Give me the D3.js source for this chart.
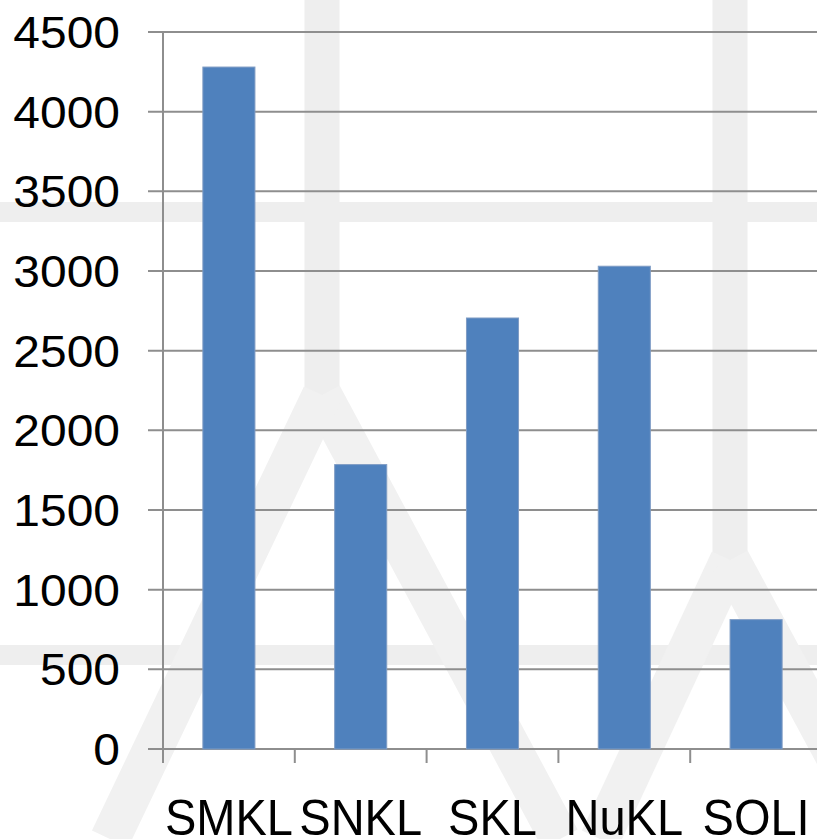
<!DOCTYPE html>
<html>
<head>
<meta charset="utf-8">
<script src="https://cdn.jsdelivr.net/npm/d3@7"></script>
<style>
  html, body { margin: 0; padding: 0; background: #ffffff; }
  svg { display: block; }
  text { font-family: "Liberation Sans", Arial, sans-serif; fill: #000; }
</style>
</head>
<body>
<svg id="chart" width="817" height="839"></svg>
<script>
// ---- data ----
const categories = ["SMKL", "SNKL", "SKL", "NuKL", "SOLI"];
const values = [4280, 1785, 2705, 3030, 812];
const yTicks = [0, 500, 1000, 1500, 2000, 2500, 3000, 3500, 4000, 4500];

const W = 817, H = 839;
const svg = d3.select("#chart");

// ---- faint watermark background ----
const wm = svg.append("g").attr("fill", "none").attr("stroke", "#eeeeee").attr("stroke-linecap", "butt");
wm.append("line").attr("x1", 0).attr("x2", W).attr("y1", 212).attr("y2", 212).attr("stroke-width", 20);
wm.append("line").attr("x1", 0).attr("x2", W).attr("y1", 655).attr("y2", 655).attr("stroke-width", 20);
wm.append("line").attr("x1", 322).attr("x2", 322).attr("y1", 0).attr("y2", 400).attr("stroke-width", 35);
wm.append("line").attr("x1", 730).attr("x2", 730).attr("y1", 0).attr("y2", 565).attr("stroke-width", 35);
const wd = wm.append("g").attr("stroke", "#f1f1f1");
wd.append("line").attr("x1", 322).attr("y1", 395).attr("x2", 560).attr("y2", 839).attr("stroke-width", 40);
wd.append("line").attr("x1", 322).attr("y1", 395).attr("x2", 110).attr("y2", 839).attr("stroke-width", 40);
wd.append("line").attr("x1", 730).attr("y1", 560).attr("x2", 600).attr("y2", 839).attr("stroke-width", 40);
wd.append("line").attr("x1", 730).attr("y1", 560).attr("x2", 880).attr("y2", 839).attr("stroke-width", 40);

// ---- scales ----
const x0 = 163, step = 131.8;
const x = d3.scaleBand()
  .domain(categories)
  .range([x0, x0 + step * categories.length])
  .paddingInner(0.605)
  .paddingOuter(0.3025);

const y = d3.scaleLinear().domain([0, 4500]).range([749, 32]);

const gridColor = "#8e8e8e";

// gridlines (extend left as tick marks)
svg.append("g")
  .selectAll("line")
  .data(yTicks)
  .join("line")
  .attr("x1", 148).attr("x2", W)
  .attr("y1", d => y(d)).attr("y2", d => y(d))
  .attr("stroke", gridColor).attr("stroke-width", 2);

// y axis line
svg.append("line")
  .attr("x1", x0).attr("x2", x0)
  .attr("y1", y(4500)).attr("y2", y(0) + 14)
  .attr("stroke", gridColor).attr("stroke-width", 2);

// category boundary ticks
const bounds = d3.range(categories.length + 1).map(i => x0 + i * x.step());
svg.append("g")
  .selectAll("line")
  .data(bounds)
  .join("line")
  .attr("x1", d => d).attr("x2", d => d)
  .attr("y1", y(0)).attr("y2", y(0) + 14)
  .attr("stroke", gridColor).attr("stroke-width", 2);

// bars
svg.append("g")
  .selectAll("rect")
  .data(categories)
  .join("rect")
  .attr("x", d => x(d))
  .attr("width", x.bandwidth())
  .attr("y", (d, i) => y(values[i]))
  .attr("height", (d, i) => y(0) - y(values[i]))
  .attr("fill", "#4f81bd")
  .attr("stroke", "#7f9cc4")
  .attr("stroke-width", 1);

// y tick labels
svg.append("g")
  .selectAll("text")
  .data(yTicks)
  .join("text")
  .attr("transform", d => `translate(120,${y(d)}) scale(1.09,1)`)
  .attr("dy", "0.36em")
  .attr("text-anchor", "end")
  .attr("font-size", 44)
  .text(d => d);

// x labels
svg.append("g")
  .selectAll("text")
  .data(categories)
  .join("text")
  .attr("transform", d => `translate(${x(d) + x.bandwidth() / 2},835) scale(1,1.07)`)
  .attr("text-anchor", "middle")
  .attr("font-size", 47)
  .text(d => d);
</script>
</body>
</html>
